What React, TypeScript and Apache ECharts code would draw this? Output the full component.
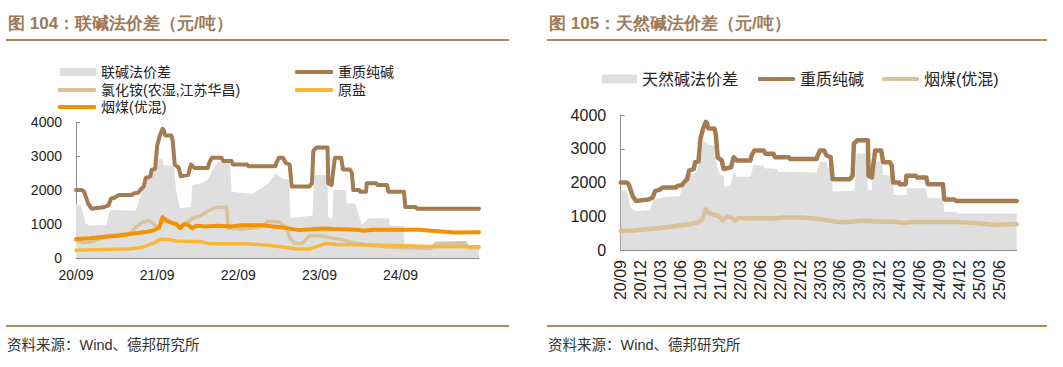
import React, { useEffect, useRef } from 'react';
import * as echarts from 'echarts';

type Pt = [string, number];

// ---------- data ----------
const END_DATE = '2025-08-19';
const leftXTickLabels = ['20/09', '21/09', '22/09', '23/09', '24/09'];
const rightXTickLabels = [
  '20/09', '20/12', '21/03', '21/06', '21/09', '21/12', '22/03', '22/06', '22/09', '22/12',
  '23/03', '23/06', '23/09', '23/12', '24/03', '24/06', '24/09', '24/12', '25/03', '25/06',
];
const yTicks = [0, 1000, 2000, 3000, 4000];

// 联碱法价差
const jointDiff: Pt[] = [
  ['2020-09-01', 1580], ['2020-09-22', 1550], ['2020-10-13', 1020], ['2020-11-01', 950],
  ['2021-01-16', 980], ['2021-02-01', 1400], ['2021-02-19', 1420], ['2021-05-25', 1380],
  ['2021-06-10', 1700], ['2021-07-10', 2240], ['2021-08-01', 2400], ['2021-08-25', 2700],
  ['2021-09-10', 2930], ['2021-09-25', 2900], ['2021-10-01', 2730], ['2021-11-16', 2700],
  ['2021-11-25', 2000], ['2021-12-13', 1460], ['2022-02-01', 1500], ['2022-02-07', 2150],
  ['2022-03-16', 2200], ['2022-04-16', 2300], ['2022-05-16', 2700], ['2022-06-01', 2830],
  ['2022-07-25', 2830], ['2022-08-01', 1950], ['2022-11-01', 1880], ['2022-12-01', 2000],
  ['2023-01-16', 2200], ['2023-02-16', 2490], ['2023-03-16', 2340], ['2023-04-16', 2300],
  ['2023-04-22', 1170], ['2023-08-01', 1250], ['2023-08-07', 2440], ['2023-10-07', 2440],
  ['2023-10-10', 1200], ['2023-10-28', 1150], ['2023-11-04', 2000], ['2023-12-28', 2000],
  ['2024-01-01', 1600], ['2024-02-10', 1600], ['2024-03-10', 970], ['2024-04-10', 1170],
  ['2024-07-10', 1170], ['2024-07-13', 950], ['2024-09-16', 950], ['2024-09-19', 300],
  ['2025-02-10', 300], ['2025-02-13', 480], ['2025-06-25', 480], ['2025-06-28', 330],
  ['2025-08-19', 330],
];

// 重质纯碱
const heavySoda: Pt[] = [
  ['2020-09-01', 2000], ['2020-09-28', 2000], ['2020-10-07', 1950], ['2020-10-25', 1600],
  ['2020-11-10', 1450], ['2020-12-16', 1480], ['2021-01-07', 1500], ['2021-01-25', 1550],
  ['2021-02-07', 1750], ['2021-02-25', 1780], ['2021-03-10', 1850], ['2021-05-10', 1850],
  ['2021-05-16', 1900], ['2021-06-07', 1920], ['2021-06-16', 2000], ['2021-07-01', 2100],
  ['2021-07-10', 2350], ['2021-08-01', 2400], ['2021-08-07', 2600], ['2021-08-22', 2620],
  ['2021-09-01', 3300], ['2021-09-13', 3600], ['2021-09-25', 3800], ['2021-10-01', 3750],
  ['2021-10-07', 3600], ['2021-11-04', 3600], ['2021-11-10', 3450], ['2021-11-19', 2750],
  ['2021-12-07', 2650], ['2021-12-16', 2400], ['2022-01-19', 2450], ['2022-02-01', 2750],
  ['2022-02-16', 2650], ['2022-04-16', 2650], ['2022-04-22', 2800], ['2022-05-04', 2950],
  ['2022-06-16', 2950], ['2022-06-25', 2850], ['2022-08-01', 2850], ['2022-08-07', 2750],
  ['2022-10-10', 2750], ['2022-10-16', 2700], ['2023-02-16', 2700], ['2023-02-19', 2780],
  ['2023-03-01', 2950], ['2023-03-19', 2950], ['2023-04-01', 2800], ['2023-04-19', 2750],
  ['2023-04-28', 2100], ['2023-07-16', 2100], ['2023-07-28', 2200], ['2023-08-04', 3150],
  ['2023-08-19', 3250], ['2023-10-07', 3250], ['2023-10-10', 2200], ['2023-10-25', 2150],
  ['2023-11-01', 2500], ['2023-11-10', 2950], ['2023-12-07', 2950], ['2023-12-16', 2600],
  ['2024-01-16', 2600], ['2024-01-25', 2500], ['2024-02-01', 2000], ['2024-02-28', 2000],
  ['2024-03-01', 1950], ['2024-03-28', 1950], ['2024-04-01', 2200], ['2024-05-13', 2200],
  ['2024-05-19', 2150], ['2024-07-01', 2150], ['2024-07-07', 1950], ['2024-09-16', 1950],
  ['2024-09-22', 1500], ['2024-11-07', 1500], ['2024-11-16', 1450], ['2025-08-19', 1450],
];

// 氯化铵(农湿,江苏华昌)
const ammoniumChloride: Pt[] = [
  ['2020-09-01', 520], ['2020-10-01', 450], ['2020-11-16', 480], ['2021-01-01', 600],
  ['2021-02-16', 680], ['2021-05-01', 720], ['2021-05-25', 900], ['2021-06-25', 1050],
  ['2021-07-25', 1100], ['2021-08-16', 1000], ['2021-08-28', 880], ['2021-09-16', 1000],
  ['2021-10-07', 1170], ['2021-11-16', 980], ['2021-12-16', 950], ['2022-01-16', 1050],
  ['2022-02-07', 1170], ['2022-03-16', 1250], ['2022-04-10', 1360], ['2022-05-16', 1480],
  ['2022-07-10', 1500], ['2022-07-16', 880], ['2022-09-16', 850], ['2022-11-01', 880],
  ['2022-12-16', 920], ['2023-01-10', 1070], ['2023-03-01', 1070], ['2023-04-01', 920],
  ['2023-04-19', 600], ['2023-05-10', 430], ['2023-06-16', 430], ['2023-07-16', 650],
  ['2023-09-01', 660], ['2023-10-16', 600], ['2023-12-16', 530], ['2024-02-01', 450],
  ['2024-04-01', 380], ['2024-07-01', 330], ['2024-09-16', 300], ['2025-01-16', 290],
  ['2025-02-10', 430], ['2025-06-16', 450], ['2025-07-01', 300], ['2025-08-19', 300],
];

// 原盐
const crudeSalt: Pt[] = [
  ['2020-09-01', 230], ['2021-01-01', 250], ['2021-05-01', 270], ['2021-06-19', 300],
  ['2021-08-01', 400], ['2021-08-25', 470], ['2021-09-16', 560], ['2021-11-01', 540],
  ['2021-11-25', 500], ['2022-03-16', 480], ['2022-04-16', 430], ['2022-10-01', 420],
  ['2023-01-01', 380], ['2023-03-01', 340], ['2023-05-16', 270], ['2023-07-16', 260],
  ['2023-08-16', 330], ['2023-10-01', 430], ['2023-11-16', 400], ['2024-05-01', 380],
  ['2024-09-16', 360], ['2025-01-01', 340], ['2025-08-19', 330],
];

// 烟煤(优混)
const coal: Pt[] = [
  ['2020-09-01', 560], ['2020-11-01', 580], ['2021-01-19', 630], ['2021-03-01', 650],
  ['2021-05-19', 720], ['2021-07-16', 770], ['2021-08-19', 820], ['2021-09-10', 900],
  ['2021-09-25', 1200], ['2021-10-10', 1100], ['2021-11-01', 1050], ['2021-11-25', 1000],
  ['2021-12-13', 880], ['2022-01-01', 1000], ['2022-01-16', 980], ['2022-02-07', 870],
  ['2022-02-25', 950], ['2022-04-01', 930], ['2022-06-01', 950], ['2022-08-01', 930],
  ['2022-09-16', 960], ['2022-12-16', 960], ['2023-03-16', 900], ['2023-06-01', 820],
  ['2023-07-16', 840], ['2023-09-16', 870], ['2023-11-01', 850], ['2024-02-16', 830],
  ['2024-03-16', 800], ['2024-05-01', 830], ['2024-08-01', 830], ['2024-11-16', 830],
  ['2025-02-19', 790], ['2025-05-01', 750], ['2025-08-19', 760],
];

// 天然碱法价差
const naturalDiff: Pt[] = [
  ['2020-09-01', 1780], ['2020-09-28', 1750], ['2020-10-16', 1250], ['2020-11-13', 1150],
  ['2021-01-13', 1180], ['2021-01-28', 1480], ['2021-03-13', 1560], ['2021-05-28', 1600],
  ['2021-06-13', 1975], ['2021-07-13', 2220], ['2021-08-13', 2300], ['2021-09-01', 2670],
  ['2021-09-13', 3210], ['2021-09-28', 3200], ['2021-10-07', 3110], ['2021-11-07', 3100],
  ['2021-11-16', 2470], ['2021-12-01', 2220], ['2021-12-16', 2200], ['2021-12-19', 1880],
  ['2022-01-16', 1900], ['2022-02-01', 2320], ['2022-02-16', 2170], ['2022-04-16', 2170],
  ['2022-05-01', 2520], ['2022-06-16', 2500], ['2022-06-22', 2420], ['2022-08-16', 2400],
  ['2022-08-22', 2320], ['2023-02-16', 2300], ['2023-02-19', 2420], ['2023-03-01', 2620],
  ['2023-04-01', 2600], ['2023-04-07', 2420], ['2023-04-25', 2420], ['2023-04-28', 1730],
  ['2023-07-25', 1750], ['2023-08-07', 1780], ['2023-08-16', 2860], ['2023-10-01', 2860],
  ['2023-10-07', 1780], ['2023-10-25', 1780], ['2023-11-01', 2620], ['2023-12-10', 2620],
  ['2023-12-16', 2220], ['2024-02-01', 2200], ['2024-02-04', 1630], ['2024-04-01', 1630],
  ['2024-04-04', 1830], ['2024-07-01', 1830], ['2024-07-07', 1530], ['2024-09-16', 1530],
  ['2024-09-22', 1135], ['2024-11-16', 1130], ['2024-11-22', 1080], ['2025-08-19', 1080],
];

// ---------- helpers ----------
const FONT = '"Liberation Sans", "Noto Sans CJK SC", sans-serif';
const AXIS = '#8c8c8c';
const BROWN = '#a57c52';
const TAN = '#d8c29a';
const ORANGE = '#f39200';
const YELLOW = '#f5b83a';
const GRAY = '#dfdfdf';
const TITLE = '#9c7a5a';
const RULE = '#a98767';

function monthIndex(date: string): number {
  const [y, m, d] = date.split('-').map(Number);
  return (y - 2020) * 12 + (m - 9) + (d - 1) / 30;
}
function tickIndex(label: string): number {
  const [yy, mm] = label.split('/').map(Number);
  return (yy - 20) * 12 + (mm - 9);
}
function labelOf(idx: number): string {
  const total = 8 + Math.round(idx);
  const yy = 20 + Math.floor(total / 12);
  const mm = (total % 12) + 1;
  return `${yy}/${String(mm).padStart(2, '0')}`;
}
const toXY = (pts: Pt[]) => pts.map(([d, v]) => [monthIndex(d), v]);

function lineSeries(name: string, pts: Pt[], color: string, width: number) {
  return {
    type: 'line', name, data: toXY(pts), symbol: 'none', showSymbol: false, color,
    itemStyle: { color },
    lineStyle: { width, color, cap: 'round', join: 'round' },
  };
}
function areaSeries(name: string, pts: Pt[]) {
  return {
    type: 'line', name, data: toXY(pts), symbol: 'none', showSymbol: false, color: GRAY,
    itemStyle: { color: GRAY },
    lineStyle: { width: 0, color: GRAY },
    areaStyle: { color: GRAY, opacity: 1 },
  };
}
function legendItem(name: string, left: number, top: number, w: number, h: number, icon: string, fontSize: number) {
  return {
    data: [{ name, icon }], left, top, itemWidth: w, itemHeight: h, padding: 0, itemGap: 0,
    selectedMode: false, itemStyle: { borderWidth: 0 },
    textStyle: { fontSize, color: '#222', fontFamily: FONT },
  };
}
function frame(title: string, x0: number, x1: number, tx: number) {
  return [
    { type: 'text', x: tx, y: 23, style: { text: title, fontSize: 17, fontWeight: 'bold', fill: TITLE, font: `bold 17px ${FONT}`, verticalAlign: 'middle' } },
    { type: 'line', shape: { x1: x0, y1: 40, x2: x1, y2: 40 }, style: { stroke: RULE, lineWidth: 2 } },
    { type: 'line', shape: { x1: x0, y1: 326, x2: x1, y2: 326 }, style: { stroke: RULE, lineWidth: 2 } },
    { type: 'text', x: tx - 1, y: 345, style: { text: '资料来源：Wind、德邦研究所', font: `14.5px ${FONT}`, fill: '#333', verticalAlign: 'middle' } },
  ];
}
function xAxis(labels: string[], interval: number, fontSize: number, rotate: number, margin: number) {
  const vals = labels.map(tickIndex);
  return {
    type: 'value', min: 0, max: monthIndex(END_DATE), interval,
    axisLine: { show: true, lineStyle: { color: AXIS, width: 1 } },
    axisTick: { show: true, inside: true, length: 4, customValues: vals, lineStyle: { color: AXIS } },
    axisLabel: { show: true, customValues: vals, formatter: (v: number) => labelOf(v), fontSize, color: '#222', fontFamily: FONT, rotate, margin },
    splitLine: { show: false },
  };
}
function yAxis(fontSize: number, margin: number) {
  return {
    type: 'value', min: yTicks[0], max: yTicks[yTicks.length - 1], interval: yTicks[1] - yTicks[0],
    axisLine: { show: true, lineStyle: { color: AXIS, width: 1 } },
    axisTick: { show: true, inside: true, length: 4, lineStyle: { color: AXIS } },
    axisLabel: { fontSize, color: '#222', fontFamily: FONT, margin, formatter: (v: number) => String(v) },
    splitLine: { show: false },
  };
}

const leftOption = {
  animation: false,
  textStyle: { fontFamily: FONT },
  graphic: frame('图 104：联碱法价差（元/吨）', 6, 509, 8),
  legend: [
    legendItem('联碱法价差', 60, 65, 36, 8, 'rect', 14),
    legendItem('重质纯碱', 295, 65, 38, 4, 'roundRect', 14),
    legendItem('氯化铵(农湿,江苏华昌)', 58, 83, 38, 4, 'roundRect', 14),
    legendItem('原盐', 295, 83, 38, 4, 'roundRect', 14),
    legendItem('烟煤(优混)', 58, 100, 38, 4, 'roundRect', 14),
  ],
  grid: { left: 76, top: 122, width: 403, height: 136, containLabel: false, outerBoundsMode: 'none' },
  xAxis: xAxis(leftXTickLabels, 12, 14, 0, 10),
  yAxis: yAxis(14, 14),
  series: [
    areaSeries('联碱法价差', jointDiff),
    lineSeries('氯化铵(农湿,江苏华昌)', ammoniumChloride, TAN, 3.5),
    lineSeries('原盐', crudeSalt, YELLOW, 3.5),
    lineSeries('烟煤(优混)', coal, ORANGE, 4),
    lineSeries('重质纯碱', heavySoda, BROWN, 4),
  ],
};

const rightOption = {
  animation: false,
  textStyle: { fontFamily: FONT },
  graphic: frame('图 105：天然碱法价差（元/吨）', 17, 517, 19),
  legend: [
    legendItem('天然碱法价差', 72, 71, 35, 9, 'rect', 16),
    legendItem('重质纯碱', 228, 71, 37, 4, 'roundRect', 16),
    legendItem('烟煤(优混)', 352, 71, 37, 4, 'roundRect', 16),
  ],
  grid: { left: 90.7, top: 115, width: 396, height: 135, containLabel: false, outerBoundsMode: 'none' },
  xAxis: xAxis(rightXTickLabels, 3, 16, 90, 10),
  yAxis: yAxis(16, 14.5),
  series: [
    areaSeries('天然碱法价差', naturalDiff),
    lineSeries('烟煤(优混)', coal, TAN, 4.5),
    lineSeries('重质纯碱', heavySoda, BROWN, 4.5),
  ],
};

function Panel({ option, left, width }: { option: any; left: number; width: number }) {
  const ref = useRef<HTMLDivElement>(null);
  useEffect(() => {
    if (!ref.current) return;
    const chart = echarts.init(ref.current, undefined, { renderer: 'svg' });
    chart.setOption(option);
    return () => chart.dispose();
  }, [option]);
  return <div ref={ref} style={{ position: 'absolute', left, top: 0, width, height: 367 }} />;
}

export default function App() {
  return (
    <div style={{ position: 'fixed', left: 0, top: 0, width: 1063, height: 367, background: '#fff', overflow: 'hidden' }}>
      <Panel option={leftOption} left={0} width={530} />
      <Panel option={rightOption} left={530} width={533} />
    </div>
  );
}
